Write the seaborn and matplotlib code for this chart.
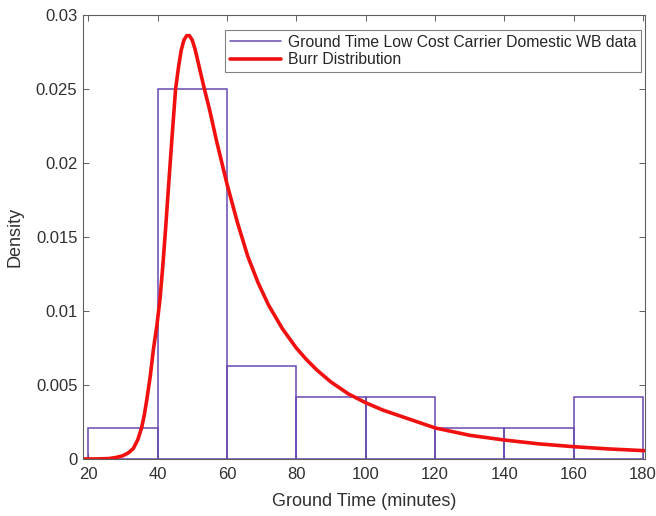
import numpy as np
import pandas as pd
import matplotlib
matplotlib.use('Agg')
import matplotlib.pyplot as plt
import seaborn as sns
from matplotlib.lines import Line2D

sns.set_style('white')
plt.rcParams['font.family'] = ['Liberation Sans', 'DejaVu Sans']

# histogram bins (density)
bin_edges = [20, 40, 60, 80, 100, 120, 140, 160, 180]
bin_density = [0.00208, 0.025, 0.00625, 0.00417, 0.00417, 0.00208, 0.00208, 0.00417]

# fitted Burr curve
burr_x = [18.5, 22, 26, 28, 30, 31.5, 33, 34.3, 35.4, 36.2, 36.9, 37.9, 38.8, 39.8,
          40.7, 41.5, 42.3, 43.1, 44.1, 45.2, 46, 46.8, 47.6, 48.4, 49.2, 50, 50.8,
          51.7, 52.6, 53.5, 55, 57, 60, 63, 66, 69, 72, 76, 80, 83, 86, 90, 95, 100,
          105, 110, 115, 120, 130, 140, 150, 160, 170, 180.5]
burr_y = [0.0, 0.0, 0.00003, 0.0001, 0.00022, 0.0004, 0.0007, 0.0013, 0.0021, 0.0030,
          0.0040, 0.0056, 0.0074, 0.0090, 0.0108, 0.0130, 0.0155, 0.0182, 0.0215,
          0.0250, 0.0264, 0.0276, 0.0283, 0.0286, 0.0286, 0.0283, 0.0277, 0.0268,
          0.0259, 0.0250, 0.0236, 0.0215, 0.0186, 0.0160, 0.0137, 0.0119, 0.0104,
          0.0088, 0.0075, 0.0067, 0.0060, 0.0052, 0.0044, 0.0038, 0.0033, 0.0029,
          0.0025, 0.0021, 0.0016, 0.00128, 0.00102, 0.00083, 0.00068, 0.00056]

hist_df = pd.DataFrame({
    'center': [(a + b) / 2 for a, b in zip(bin_edges[:-1], bin_edges[1:])],
    'density': bin_density,
})
curve_df = pd.DataFrame({'x': burr_x, 'y': burr_y})

hist_color = '#6A48B0'
curve_color = '#F01010'
axis_color = '#606060'
text_color = '#303030'

fig = plt.figure(figsize=(6.56, 5.16), dpi=100)
ax = fig.add_axes([0.1265, 0.1105, 0.8565, 0.8605])

sns.histplot(data=hist_df, x='center', weights='density', bins=bin_edges,
             fill=False, color=hist_color, linewidth=1.1, ax=ax)
sns.lineplot(data=curve_df, x='x', y='y', color=curve_color, linewidth=2.6, ax=ax)

ax.set_xlim(18.5, 180.5)
ax.set_ylim(0, 0.03)
ax.set_xticks(np.arange(20, 181, 20))
ax.set_yticks([0, 0.005, 0.01, 0.015, 0.02, 0.025, 0.03])
ax.set_yticklabels(['0', '0.005', '0.01', '0.015', '0.02', '0.025', '0.03'])
ax.set_xlabel('Ground Time (minutes)', fontsize=13, color=text_color, labelpad=8)
ax.set_ylabel('Density', fontsize=13, color=text_color, labelpad=9)

for s in ax.spines.values():
    s.set_visible(True)
    s.set_color(axis_color)
    s.set_linewidth(0.8)
ax.tick_params(direction='in', length=4, width=0.7, colors=axis_color,
               labelcolor=text_color, labelsize=12, top=True, right=True,
               bottom=True, left=True, pad=4)
ax.tick_params(axis='x', pad=6)

handles = [Line2D([0], [0], color=hist_color, lw=1.1),
           Line2D([0], [0], color=curve_color, lw=2.6)]
leg = ax.legend(handles, ['Ground Time Low Cost Carrier Domestic WB data',
                          'Burr Distribution'],
                loc='upper right', bbox_to_anchor=(0.993, 0.966), fontsize=11.3,
                frameon=True, fancybox=False, framealpha=1, borderpad=0.3,
                handlelength=3.3, handletextpad=0.4, labelspacing=0.15,
                borderaxespad=0)
leg.get_frame().set_edgecolor('#808080')
leg.get_frame().set_linewidth(0.8)

fig.savefig('out.png', dpi=100)
